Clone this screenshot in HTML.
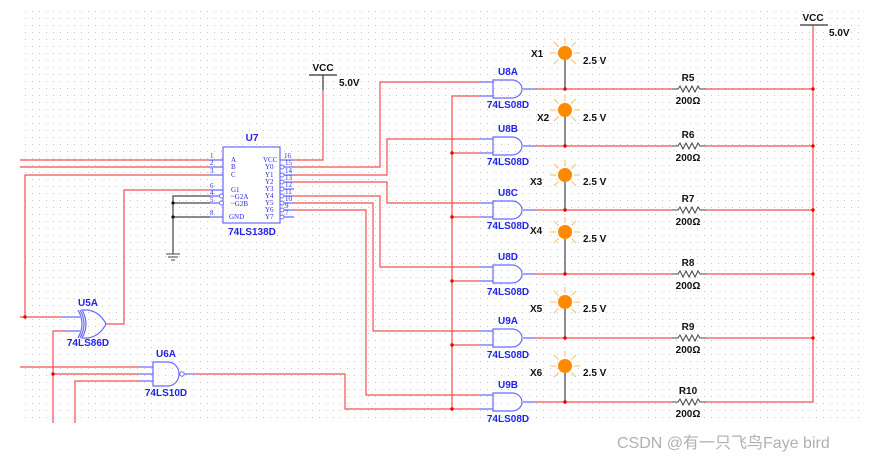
<!DOCTYPE html>
<html><head><meta charset="utf-8"><style>
html,body{margin:0;padding:0;background:#fff;}
svg{display:block;}
text{font-family:"Liberation Sans",Arial,sans-serif;font-weight:bold;font-size:10px;}
.b{fill:#2323e8;}
.k{fill:#111;}
.r{stroke:#f05050;stroke-width:1.2;fill:none;}
.bl{stroke:#6a6aff;stroke-width:1.2;fill:none;}
.g{stroke:#444;stroke-width:1.2;fill:none;}
.pn text{font-family:"Liberation Serif",serif;font-weight:normal;font-size:7px;fill:#2a2ae0;}
</style></head><body>
<svg width="881" height="462" viewBox="0 0 881 462" xmlns="http://www.w3.org/2000/svg">
<defs>
<pattern id="dots" x="25" y="11" width="7" height="7" patternUnits="userSpaceOnUse">
<rect x="0" y="0" width="1" height="1" fill="#c8c8c8"/>
</pattern>
<g id="led">
<g stroke="#ffb870" stroke-width="1">
<line x1="-9" y1="0" x2="-15" y2="0"/><line x1="9" y1="0" x2="15" y2="0"/>
<line x1="0" y1="-9" x2="0" y2="-15"/>
<line x1="6.5" y1="-6.5" x2="11" y2="-11"/><line x1="-6.5" y1="-6.5" x2="-11" y2="-11"/>
<line x1="6.5" y1="6.5" x2="11" y2="11"/><line x1="-6.5" y1="6.5" x2="-11" y2="11"/>
</g>
<circle r="7" fill="#ff8a00"/>
</g>
<g id="and">
<path d="M-13,-7 H0 M-13,7 H0 M30,0 H43" class="bl"/>
<path d="M0,-9 H19 A10,9 0 0 1 19,9 H0 Z" class="bl"/>
</g>
<g id="res">
<path d="M0,0 H6 L8,-3 L11,3 L14,-3 L17,3 L20,-3 L23,3 L26,-3 L28,0 H34" stroke="#444" stroke-width="1" fill="none"/>
</g>
</defs>
<rect x="24" y="10" width="838" height="414" fill="url(#dots)"/>

<!-- U7 decoder -->
<rect x="223" y="147" width="57" height="76" fill="#fff" stroke="#6a6aff" stroke-width="1.2"/>
<text x="252" y="141" class="b" text-anchor="middle">U7</text>
<text x="252" y="235" class="b" text-anchor="middle">74LS138D</text>
<path class="bl" d="M210,160H223M210,167H223M210,175H223M210,190H223M210,196H220M210,203H220M210,217H223
M280,160H294M283,167H294M283,175H294M283,182H294M283,189H294M283,196H294M283,203H294M283,210H294M283,217H294"/>
<g fill="#fff" stroke="#6a6aff" stroke-width="0.9">
<circle cx="221.5" cy="196" r="2"/><circle cx="221.5" cy="203" r="2"/>
<circle cx="282" cy="167" r="2"/><circle cx="282" cy="175" r="2"/><circle cx="282" cy="182" r="2"/><circle cx="282" cy="189" r="2"/>
<circle cx="282" cy="196" r="2"/><circle cx="282" cy="203" r="2"/><circle cx="282" cy="210" r="2"/><circle cx="282" cy="217" r="2"/>
</g>
<g class="pn">
<text x="210" y="158">1</text><text x="210" y="165">2</text><text x="210" y="173">3</text><text x="210" y="188">6</text>
<text x="210" y="195">4</text><text x="210" y="202">5</text><text x="210" y="215">8</text>
<text x="231" y="162">A</text><text x="231" y="169">B</text><text x="231" y="177">C</text><text x="231" y="192">G1</text>
<text x="231" y="199">~G2A</text><text x="231" y="206">~G2B</text><text x="229" y="219">GND</text>
<text x="263" y="162">VCC</text><text x="265" y="169">Y0</text><text x="265" y="177">Y1</text><text x="265" y="184">Y2</text>
<text x="265" y="191">Y3</text><text x="265" y="198">Y4</text><text x="265" y="205">Y5</text><text x="265" y="212">Y6</text><text x="265" y="219">Y7</text>
<text x="284" y="158">16</text><text x="285" y="165">15</text><text x="285" y="173">14</text><text x="285" y="180">13</text>
<text x="285" y="187">12</text><text x="285" y="194">11</text><text x="285" y="201">10</text><text x="285" y="208">9</text><text x="285" y="215">7</text>
</g>
<!-- ground -->
<path class="g" d="M210,196H173V254M210,203H173M210,217H173"/>
<path d="M166,254H180M168,257H178M171,260H175" stroke="#444" stroke-width="1"/>
<circle cx="173" cy="203" r="1.6" fill="#111"/><circle cx="173" cy="217" r="1.6" fill="#111"/>
<!-- VCC U7 -->
<path d="M309,75H337M323,75V90" stroke="#333" stroke-width="1.2"/>
<path class="r" d="M323,90V160H294"/>
<text x="323" y="71" class="k" text-anchor="middle">VCC</text>
<text x="339" y="86" class="k">5.0V</text>

<!-- inputs -->
<path class="r" d="M20,160H210M20,167H210M210,175H25V317M20,317H62M210,190H124V324H105"/>
<path class="bl" d="M62,317H80M66,331H80"/>
<path class="r" d="M66,331H53V423M20,367H139M53,374H139M139,381H75V423"/>
<path class="bl" d="M139,367H153M139,374H153M139,381H153"/>
<circle cx="25" cy="317" r="1.7" fill="#e00"/><circle cx="53" cy="374" r="1.7" fill="#e00"/>
<!-- U5A XOR -->
<path class="bl" d="M80,310 Q88,324 80,338 M78,310 Q86,324 78,338 M82,310 H88 Q100,312 106,324 Q100,336 88,338 H82 Q90,324 82,310 Z"/>
<text x="88" y="306" class="b" text-anchor="middle">U5A</text>
<text x="88" y="346" class="b" text-anchor="middle">74LS86D</text>
<!-- U6A NAND -->
<path class="bl" d="M153,362H168A11,12 0 0 1 168,386H153Z"/>
<circle cx="182" cy="374" r="2.2" fill="#fff" stroke="#6a6aff" stroke-width="1"/>
<path class="bl" d="M184,374H195"/>
<text x="166" y="357" class="b" text-anchor="middle">U6A</text>
<text x="166" y="396" class="b" text-anchor="middle">74LS10D</text>
<path class="r" d="M195,374H345V409H480"/>

<!-- decoder outputs -->
<path class="r" d="M294,167H380V82H480M294,175H387V139H480M294,182H387V203H480M294,196H380V267H480M294,203H373V331H480M294,210H366V395H480"/>
<path class="r" d="M480,96H452V409M452,153H480M452,217H480M452,281H480M452,345H480"/>
<g fill="#e00"><circle cx="452" cy="153" r="1.7"/><circle cx="452" cy="217" r="1.7"/><circle cx="452" cy="281" r="1.7"/><circle cx="452" cy="345" r="1.7"/><circle cx="452" cy="409" r="1.7"/></g>

<!-- gates rows -->
<g transform="translate(493,89)"><use href="#and"/></g>
<g transform="translate(493,146)"><use href="#and"/></g>
<g transform="translate(493,210)"><use href="#and"/></g>
<g transform="translate(493,274)"><use href="#and"/></g>
<g transform="translate(493,338)"><use href="#and"/></g>
<g transform="translate(493,402)"><use href="#and"/></g>
<g class="b" text-anchor="middle">
<text x="508" y="75">U8A</text><text x="508" y="108">74LS08D</text>
<text x="508" y="132">U8B</text><text x="508" y="165">74LS08D</text>
<text x="508" y="196">U8C</text><text x="508" y="229">74LS08D</text>
<text x="508" y="260">U8D</text><text x="508" y="295">74LS08D</text>
<text x="508" y="324">U9A</text><text x="508" y="358">74LS08D</text>
<text x="508" y="388">U9B</text><text x="508" y="422">74LS08D</text>
</g>
<!-- output lines -->
<path class="r" d="M536,89H672M706,89H813M536,146H672M706,146H813M536,210H672M706,210H813M536,274H672M706,274H813M536,338H672M706,338H813M536,402H672M706,402H813V25"/>
<path d="M800,25H828" stroke="#333" stroke-width="1.2"/>
<text x="813" y="21" class="k" text-anchor="middle">VCC</text>
<text x="829" y="36" class="k">5.0V</text>
<g fill="#e00">
<circle cx="565" cy="89" r="1.7"/><circle cx="565" cy="146" r="1.7"/><circle cx="565" cy="210" r="1.7"/><circle cx="565" cy="274" r="1.7"/><circle cx="565" cy="338" r="1.7"/><circle cx="565" cy="402" r="1.7"/>
<circle cx="813" cy="89" r="1.7"/><circle cx="813" cy="146" r="1.7"/><circle cx="813" cy="210" r="1.7"/><circle cx="813" cy="274" r="1.7"/><circle cx="813" cy="338" r="1.7"/>
</g>
<!-- resistors -->
<g transform="translate(672,89)"><use href="#res"/></g>
<g transform="translate(672,146)"><use href="#res"/></g>
<g transform="translate(672,210)"><use href="#res"/></g>
<g transform="translate(672,274)"><use href="#res"/></g>
<g transform="translate(672,338)"><use href="#res"/></g>
<g transform="translate(672,402)"><use href="#res"/></g>
<g class="k" text-anchor="middle">
<text x="688" y="81">R5</text><text x="688" y="104">200Ω</text>
<text x="688" y="138">R6</text><text x="688" y="161">200Ω</text>
<text x="688" y="202">R7</text><text x="688" y="225">200Ω</text>
<text x="688" y="266">R8</text><text x="688" y="289">200Ω</text>
<text x="688" y="330">R9</text><text x="688" y="353">200Ω</text>
<text x="688" y="394">R10</text><text x="688" y="417">200Ω</text>
</g>
<!-- LEDs -->
<path class="g" d="M565,60V89M565,117V146M565,182V210M565,239V274M565,309V338M565,373V402"/>
<use href="#led" x="565" y="53"/>
<use href="#led" x="565" y="110"/>
<use href="#led" x="565" y="175"/>
<use href="#led" x="565" y="232"/>
<use href="#led" x="565" y="302"/>
<use href="#led" x="565" y="366"/>
<g class="k">
<text x="531" y="57">X1</text><text x="583" y="64">2.5 V</text>
<text x="537" y="121">X2</text><text x="583" y="121">2.5 V</text>
<text x="530" y="185">X3</text><text x="583" y="185">2.5 V</text>
<text x="530" y="234">X4</text><text x="583" y="242">2.5 V</text>
<text x="530" y="312">X5</text><text x="583" y="312">2.5 V</text>
<text x="530" y="376">X6</text><text x="583" y="376">2.5 V</text>
</g>
<text x="617" y="448" style="font-family:'Liberation Sans','Noto Sans CJK SC',sans-serif;font-weight:normal;font-size:16px;fill:#b0b0b0;">CSDN @有一只飞鸟Faye bird</text>
</svg>
</body></html>
